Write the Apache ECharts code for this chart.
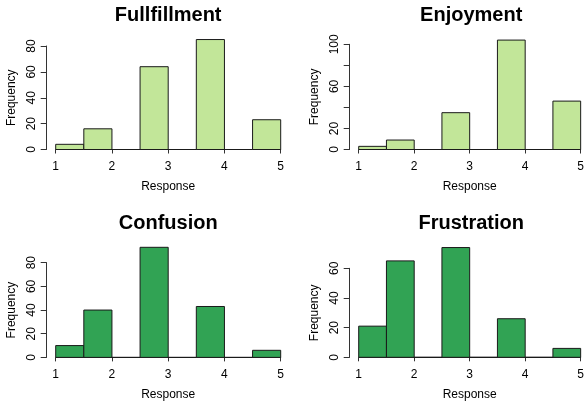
<!DOCTYPE html>
<html>
<head>
<meta charset="utf-8">
<script src="https://cdn.jsdelivr.net/npm/echarts@6/dist/echarts.min.js"></script>
<style>
  html, body { margin: 0; padding: 0; background: #fff; }
  #main { width: 587px; height: 404px; }
</style>
</head>
<body>
<div id="main"></div>
<script>
// histogram bins (width 0.5) and counts per panel
var breaks = [1, 1.5, 2, 2.5, 3, 3.5, 4, 4.5, 5];
var fullfillment = [4, 16, 0, 64, 0, 85, 0, 23];
var enjoyment = [3, 9, 0, 35, 0, 104, 0, 46];
var confusion = [10, 40, 0, 93, 0, 43, 0, 6];
var frustration = [21, 65, 0, 74, 0, 26, 0, 6];

var panelTitles = ['Fullfillment', 'Enjoyment', 'Confusion', 'Frustration'];
var panelCounts = [fullfillment, enjoyment, confusion, frustration];
var panelColors = ['#C2E699', '#C2E699', '#31A354', '#31A354'];
var yTopTicks = [80, 100, 80, 60];
// R drops labels that would overlap (40 and 80 on the Enjoyment axis)
var enjoymentLabels = [0, 20, 60, 100];

// plot boxes in pixels: x = 1..5, y = 0..top tick
var boxes = [
    { left: 55.7, top: 46, width: 225, height: 103.5 },
    { left: 358.7, top: 44.3, width: 225, height: 105.2 },
    { left: 55.7, top: 262.7, width: 225, height: 94.7 },
    { left: 358.7, top: 268.3, width: 225, height: 89 }
];
var titleTops = [5, 5, 213, 213];

var font = 'Liberation Sans, Arial, Helvetica, sans-serif';

function binsOf(counts){
    var out = [];
    for (var i = 0; i < counts.length; i++) {
        out.push([breaks[i], breaks[i + 1], counts[i]]);
    }
    return out;
}

var grids = [], xAxes = [], yAxes = [], series = [], titles = [];

panelTitles.forEach(function(name, i){
    var b = boxes[i];
    grids.push({ left: b.left, top: b.top, width: b.width, height: b.height, containLabel: false });
    titles.push({
        text: name,
        left: b.left + b.width / 2,
        top: titleTops[i],
        textAlign: 'center',
        padding: 0,
        textStyle: { fontFamily: font, fontSize: 20, fontWeight: 'bold', color: '#000' }
    });
    xAxes.push({
        type: 'value',
        gridIndex: i,
        min: 1,
        max: 5,
        interval: 1,
        offset: 4,
        name: 'Response',
        nameLocation: 'middle',
        nameGap: 27,
        nameTextStyle: { fontFamily: font, fontSize: 12, color: '#000' },
        axisLine: { show: true, lineStyle: { color: '#333', width: 1 } },
        axisTick: { show: true, length: 4, lineStyle: { color: '#333' } },
        axisLabel: { fontFamily: font, fontSize: 12, color: '#000', margin: 7 },
        splitLine: { show: false }
    });
    yAxes.push({
        type: 'value',
        gridIndex: i,
        min: 0,
        max: yTopTicks[i],
        interval: 20,
        offset: 9,
        name: 'Frequency',
        nameLocation: 'middle',
        nameGap: 29,
        nameTextStyle: { fontFamily: font, fontSize: 12, color: '#000' },
        axisLine: { show: true, lineStyle: { color: '#333', width: 1 } },
        axisTick: { show: true, length: 6, lineStyle: { color: '#333' } },
        axisLabel: {
            fontFamily: font,
            fontSize: 12,
            color: '#000',
            rotate: 90,
            margin: 9,
            formatter: function(v){
                if (i === 1 && enjoymentLabels.indexOf(v) < 0) return '';
                return v;
            }
        },
        splitLine: { show: false }
    });
    series.push({
        type: 'custom',
        xAxisIndex: i,
        yAxisIndex: i,
        data: binsOf(panelCounts[i]),
        clip: false,
        renderItem: function(params, api){
            var p0 = api.coord([api.value(0), 0]);
            var p1 = api.coord([api.value(1), api.value(2)]);
            return {
                type: 'rect',
                shape: { x: p0[0], y: p1[1], width: p1[0] - p0[0], height: p0[1] - p1[1] },
                style: { fill: panelColors[i], stroke: '#1a1a1a', lineWidth: 1 }
            };
        }
    });
});

var myChart = echarts.init(document.getElementById('main'));
myChart.setOption({
    backgroundColor: '#fff',
    animation: false,
    title: titles,
    grid: grids,
    xAxis: xAxes,
    yAxis: yAxes,
    series: series
});
</script>
</body>
</html>
